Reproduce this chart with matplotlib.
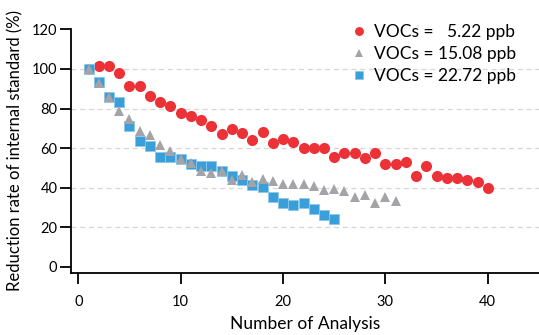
import matplotlib
matplotlib.use("Agg")
import matplotlib.pyplot as plt

plt.rcParams['font.family'] = ['Lato', 'DejaVu Sans']

x_red = list(range(1, 41))
y_red = [100, 101.5, 101.5, 98.1, 91.4, 91.4, 86.4, 83.3, 81.3, 77.6,
         76.3, 74.2, 71.2, 67.2, 69.5, 67.5, 64.3, 68.3, 62.5, 64.5,
         63.3, 60.3, 60.3, 60.3, 55.4, 57.4, 57.4, 55.2, 57.4, 52.0,
         52.0, 53.2, 46.1, 51.0, 46.1, 45.1, 45.1, 43.9, 43.1, 40.1]

x_gray = list(range(1, 32))
y_gray = [100, 92.8, 86.0, 78.8, 74.6, 68.8, 66.7, 61.6, 58.7, 54.7,
          52.4, 48.6, 47.6, 48.6, 43.9, 46.5, 42.7, 44.6, 43.6, 41.7,
          41.7, 41.7, 40.8, 38.9, 39.5, 38.5, 35.5, 36.4, 32.5, 35.5,
          33.5]

x_blue = list(range(1, 26))
y_blue = [100, 93.3, 85.9, 83.2, 71.2, 63.6, 61.3, 55.4, 55.4, 54.4,
          52.0, 51.2, 51.2, 48.6, 46.0, 43.9, 41.4, 40.2, 35.2, 32.2,
          31.3, 32.3, 29.2, 26.2, 24.1]

labels = ["VOCs =   5.22 ppb", "VOCs = 15.08 ppb", "VOCs = 22.72 ppb"]
x_ticks = [0, 10, 20, 30, 40]
y_ticks = [0, 20, 40, 60, 80, 100, 120]
grid_y = [20, 40, 60, 80, 100]

red = '#ED3237'
gray = '#A3A3A8'
blue = '#3A9FD9'

fig = plt.figure(figsize=(5.39, 3.35), dpi=100)
ax = fig.add_axes([71.3/539, 1-272.5/335, 1-71.3/539, (272.5-29.3)/335])

for gy in grid_y:
    ax.axhline(gy, color='#D6D6D6', lw=0.9, ls=(0, (4, 3)), zorder=0)

ax.plot(x_red, y_red, 'o', color=red, ms=8, mec=red, mew=0, label=labels[0], zorder=2)
ax.plot(x_gray, y_gray, '^', color=gray, ms=7.8, mec=gray, mew=0, label=labels[1], zorder=4)
ax.plot(x_blue, y_blue, 's', color=blue, ms=7, mec='#8CC8EC', mew=0.6, label=labels[2], zorder=3)

ax.set_xlim(-0.68, 45)
ax.set_ylim(-2.8, 120)
ax.set_xticks(x_ticks)
ax.set_yticks(y_ticks)
for s in ['top', 'right']:
    ax.spines[s].set_visible(False)
ax.spines['left'].set_bounds(-2.8, 120)
for s in ['left', 'bottom']:
    ax.spines[s].set_linewidth(1.3)
ax.tick_params(axis='both', length=8, width=1.3, labelsize=10.5)
ax.tick_params(axis='y', pad=2)
ax.tick_params(axis='x', pad=8)

ax.set_xlabel('Number of Analysis', fontsize=12.5, labelpad=5)
ax.set_ylabel('Reduction rate of internal standard (%)', fontsize=12, labelpad=6)

ax.legend(loc='upper right', bbox_to_anchor=(0.985, 1.085), frameon=False,
          fontsize=12.5, handletextpad=0.35, labelspacing=0.35, handlelength=1.0,
          markerscale=0.8)

fig.savefig('out.png', dpi=100)
